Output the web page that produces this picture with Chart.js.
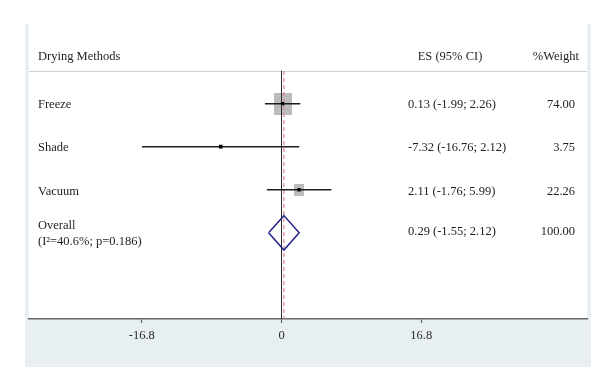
<!DOCTYPE html>
<html><head><meta charset="utf-8">
<script src="https://cdn.jsdelivr.net/npm/chart.js@4.4.0/dist/chart.umd.min.js"></script>
<style>html,body{margin:0;padding:0;background:#fff}#wrap{width:610px;height:376px;position:relative}</style>
</head><body><div id="wrap"><canvas id="c" width="610" height="376"></canvas></div>
<script>
// ---- data ----
const studies = ['Freeze', 'Shade', 'Vacuum'];
const esValues = [0.13, -7.32, 2.11];
const ciLow = [-1.99, -16.76, -1.76];
const ciHigh = [2.26, 2.12, 5.99];
const weights = [74.00, 3.75, 22.26];
const studyRows = [2, 3, 4];
const overallLabel = ['Overall', '(I\u00b2=40.6%; p=0.186)'];
const overallES = [0.29];
const overallLow = [-1.55];
const overallHigh = [2.12];
const overallWeight = [100.00];
const overallRow = [5];
const xTicks = [-16.8, 0, 16.8];
const headers = ['Drying Methods', 'ES (95% CI)', '%Weight'];

// ---- layout/styling constants ----
const Y_MIN = 0.151, Y_MAX = 7.0, HEADER_ROW = 0.92, SEP_ROW = 1.24;
const FONT = '12.5px "Liberation Serif", "Times New Roman", serif';
const TEXT_COLOR = '#1e1e1e';

const fmt = v => v.toFixed(2);
const esText = (e, l, h) => `${fmt(e)} (${fmt(l)}; ${fmt(h)})`;

const squareCache = {};
function squareFor(w) {
  if (squareCache[w]) return squareCache[w];
  const sw = Math.max(3, Math.round(2.09 * Math.sqrt(w)));
  const sh = Math.max(3, Math.round(sw * 1.22));
  const cv = document.createElement('canvas');
  cv.width = sw; cv.height = sh;
  const c = cv.getContext('2d');
  c.fillStyle = '#bcbcbc';
  c.fillRect(0, 0, sw, sh);
  squareCache[w] = cv;
  return cv;
}

const datasets = [];
// reference lines
datasets.push({type: 'line', data: [{x: 0, y: SEP_ROW}, {x: 0, y: Y_MAX}], borderColor: '#2a2a2a', borderWidth: 1, pointRadius: 0, order: 7});
datasets.push({type: 'line', data: [{x: overallES[0], y: SEP_ROW}, {x: overallES[0], y: Y_MAX}], borderColor: '#d98592', borderWidth: 1.2, borderDash: [4, 3], pointRadius: 0, order: 6});
// weight squares
datasets.push({type: 'scatter', data: studies.map((s, i) => ({x: esValues[i], y: studyRows[i], w: weights[i]})),
  pointStyle: ctx => squareFor(ctx.raw ? ctx.raw.w : 10), pointRadius: 5, order: 9});
// CI lines
studies.forEach((s, i) => {
  datasets.push({type: 'line', data: [{x: ciLow[i], y: studyRows[i]}, {x: ciHigh[i], y: studyRows[i]}], borderColor: '#1e1e1e', borderWidth: 1.5, pointRadius: 0, order: 3});
});
// point estimates
datasets.push({type: 'scatter', data: studies.map((s, i) => ({x: esValues[i], y: studyRows[i]})), pointStyle: 'rect', pointRadius: 2.4, backgroundColor: '#000', borderColor: '#000', borderWidth: 0, order: 1});
// overall diamond
const dh = 0.4;
datasets.push({type: 'line', data: [
  {x: overallLow[0], y: overallRow[0]}, {x: overallES[0], y: overallRow[0] - dh},
  {x: overallHigh[0], y: overallRow[0]}, {x: overallES[0], y: overallRow[0] + dh},
  {x: overallLow[0], y: overallRow[0]}], borderColor: '#22248c', borderWidth: 1.5, pointRadius: 0, fill: false, tension: 0, order: 2});

const bgPlugin = {
  id: 'bg',
  beforeDraw(chart) {
    const {ctx, chartArea: a} = chart;
    ctx.save();
    ctx.fillStyle = '#fff';
    ctx.fillRect(0, 0, chart.width, chart.height);
    ctx.fillStyle = '#e8eff2';
    ctx.fillRect(a.left - 4, a.top, a.right - a.left + 8, 367 - a.top);
    ctx.fillStyle = '#fff';
    ctx.fillRect(a.left, a.top, a.right - a.left, a.bottom - a.top);
    // header separator
    const y = Math.round(chart.scales.y.getPixelForValue(SEP_ROW)) + 0.5;
    ctx.strokeStyle = '#cdd2d4';
    ctx.lineWidth = 1;
    ctx.beginPath(); ctx.moveTo(a.left, y); ctx.lineTo(a.right, y); ctx.stroke();
    ctx.restore();
  }
};

const textPlugin = {
  id: 'texts',
  afterDatasetsDraw(chart) {
    const {ctx, chartArea: a} = chart;
    const ys = chart.scales.y;
    const labelX = a.left + 9, esX = a.left + 379, wX = a.left + 546;
    ctx.save();
    ctx.font = FONT;
    ctx.fillStyle = TEXT_COLOR;
    ctx.textBaseline = 'middle';
    const hy = ys.getPixelForValue(HEADER_ROW);
    ctx.textAlign = 'left'; ctx.fillText(headers[0], labelX, hy);
    ctx.textAlign = 'center'; ctx.fillText(headers[1], a.left + 421, hy);
    ctx.textAlign = 'right'; ctx.fillText(headers[2], a.left + 550, hy);
    studies.forEach((s, i) => {
      const y = ys.getPixelForValue(studyRows[i]) + 1.5;
      ctx.textAlign = 'left';
      ctx.fillText(s, labelX, y);
      ctx.fillText(esText(esValues[i], ciLow[i], ciHigh[i]), esX, y);
      ctx.textAlign = 'right';
      ctx.fillText(fmt(weights[i]), wX, y);
    });
    const oy = ys.getPixelForValue(overallRow[0]);
    ctx.textAlign = 'left';
    ctx.fillText(overallLabel[0], labelX, oy - 7);
    ctx.fillText(overallLabel[1], labelX, oy + 9);
    ctx.fillText(esText(overallES[0], overallLow[0], overallHigh[0]), esX, oy - 1);
    ctx.textAlign = 'right';
    ctx.fillText(fmt(overallWeight[0]), wX, oy - 1);
    ctx.restore();
  }
};

new Chart(document.getElementById('c'), {
  type: 'scatter',
  data: {datasets},
  options: {
    responsive: false,
    animation: false,
    events: [],
    layout: {padding: {left: 29, right: 23, top: 24, bottom: 0}},
    plugins: {legend: {display: false}, tooltip: {enabled: false}},
    scales: {
      x: {
        type: 'linear', min: -30.35, max: 36.72, position: 'bottom',
        afterBuildTicks: s => { s.ticks = xTicks.map(v => ({value: v})); },
        afterFit: s => { s.height = 57; },
        ticks: {font: {family: '"Liberation Serif", serif', size: 12.5}, color: '#2a2a2a', padding: 5, maxRotation: 0, callback: v => String(v)},
        grid: {drawOnChartArea: false, tickLength: 4, color: '#555', tickWidth: 1},
        border: {color: '#666', width: 1.5}
      },
      y: {type: 'linear', display: false, reverse: true, min: Y_MIN, max: Y_MAX}
    }
  },
  plugins: [bgPlugin, textPlugin]
});
</script>
</body></html>
